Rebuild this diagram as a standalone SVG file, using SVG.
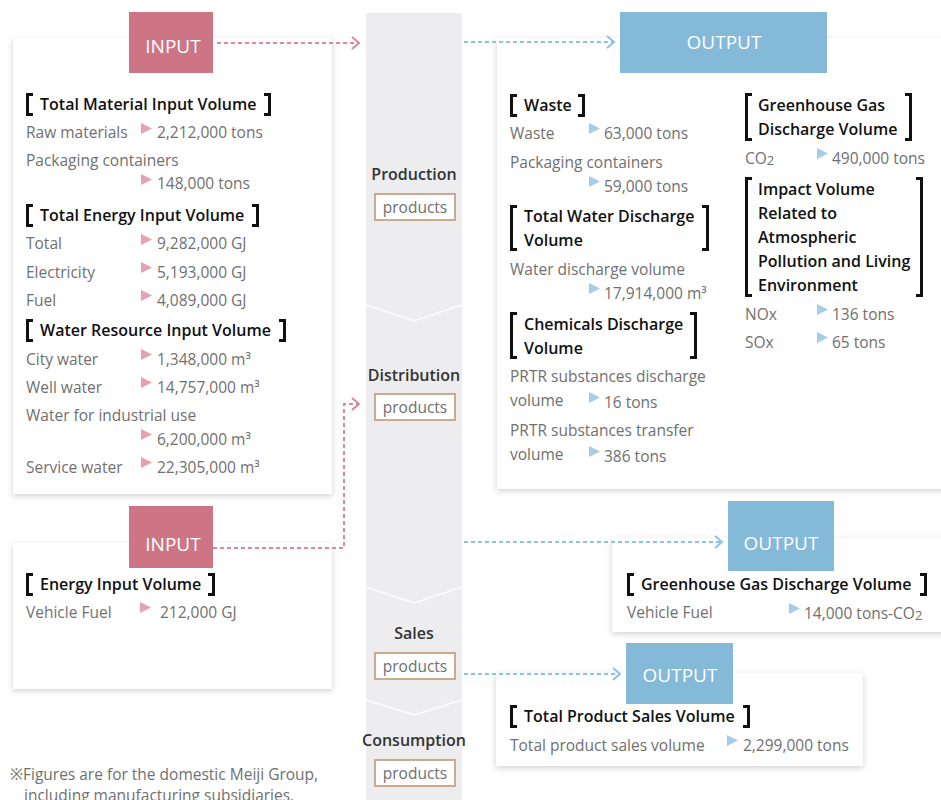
<svg xmlns="http://www.w3.org/2000/svg" width="941" height="800" viewBox="0 0 941 800">
<defs>
<filter id="sh" x="-10%" y="-10%" width="120%" height="125%">
<feDropShadow dx="0" dy="2" stdDeviation="3" flood-color="#000" flood-opacity="0.18"/>
</filter>
<marker id="ap" markerWidth="10" markerHeight="14" refX="8" refY="7" orient="auto" markerUnits="userSpaceOnUse">
<path d="M1,1 L8,7 L1,13" fill="none" stroke="#d9899a" stroke-width="2"/>
</marker>
<marker id="ab" markerWidth="10" markerHeight="14" refX="8" refY="7" orient="auto" markerUnits="userSpaceOnUse">
<path d="M1,1 L8,7 L1,13" fill="none" stroke="#8cc3de" stroke-width="2"/>
</marker>
</defs>
<style>
text{font-family:"Open Sans","Noto Sans","Liberation Sans",sans-serif;}
.panel{fill:#fff;filter:url(#sh);}
.inbox{fill:#cd7585;}
.outbox{fill:#84b9d8;}
.boxt{fill:#fff;font-size:19px;text-anchor:middle;}
.h{font-size:16px;font-weight:600;fill:#111;}
.t{font-size:15.5px;fill:#707070;}
.br{fill:none;stroke:#111;stroke-width:3;}
.tp{fill:#e8a1b0;}
.tb{fill:#a5cde8;}
.stage{font-size:16px;font-weight:600;fill:#333;text-anchor:middle;}
.prod{fill:#fff;stroke:#c9ab92;stroke-width:2;}
.pt{font-size:15.5px;fill:#707070;text-anchor:middle;}
.dp{fill:none;stroke:#d9899a;stroke-width:2;stroke-dasharray:4 3;}
.db{fill:none;stroke:#8cc3de;stroke-width:2;stroke-dasharray:4 3;}
.chev{fill:none;stroke:#fafafc;stroke-width:2;}
</style>

<g id="flow-column">
<rect x="366" y="13" width="96" height="787" fill="#ededf0"/>
<path class="chev" d="M366,305 L414,321 L462,305"/>
<path class="chev" d="M366,587 L414,603 L462,587"/>
<path class="chev" d="M366,700 L414,715 L462,700"/>
</g>

<g id="stage-production">
<text class="stage" x="414" y="180">Production</text>
<rect class="prod" x="375" y="194" width="80" height="26"/>
<text class="pt" x="415" y="213">products</text>
</g>
<g id="stage-distribution">
<text class="stage" x="414" y="381">Distribution</text>
<rect class="prod" x="375" y="394" width="80" height="26"/>
<text class="pt" x="415" y="413">products</text>
</g>
<g id="stage-sales">
<text class="stage" x="414" y="639">Sales</text>
<rect class="prod" x="375" y="653" width="80" height="26"/>
<text class="pt" x="415" y="672">products</text>
</g>
<g id="stage-consumption">
<text class="stage" x="414" y="746">Consumption</text>
<rect class="prod" x="375" y="760" width="80" height="26"/>
<text class="pt" x="415" y="779">products</text>
</g>

<g id="input-production">
<rect class="panel" x="13" y="38" width="319" height="456"/>
<rect class="inbox" x="129" y="12" width="84" height="61"/>
<text class="boxt" x="173" y="53">INPUT</text>
<path class="br" d="M33,94.5 H27.5 V114.5 H33"/>
<text class="h" x="40" y="110">Total Material Input Volume</text>
<path class="br" d="M264,94.5 H269.5 V114.5 H264"/>
<text class="t" x="26" y="138">Raw materials</text>
<polygon class="tp" points="141,123 141,134 152,128.5"/>
<text class="t" x="157" y="138">2,212,000 tons</text>
<text class="t" x="26" y="166">Packaging containers</text>
<polygon class="tp" points="141,174 141,185 152,179.5"/>
<text class="t" x="157" y="189">148,000 tons</text>
<path class="br" d="M33,205.5 H27.5 V225.5 H33"/>
<text class="h" x="40" y="221">Total Energy Input Volume</text>
<path class="br" d="M252,205.5 H257.5 V225.5 H252"/>
<text class="t" x="26" y="249">Total</text>
<polygon class="tp" points="141,234 141,245 152,239.5"/>
<text class="t" x="157" y="249">9,282,000 GJ</text>
<text class="t" x="26" y="278">Electricity</text>
<polygon class="tp" points="141,262 141,273 152,267.5"/>
<text class="t" x="157" y="278">5,193,000 GJ</text>
<text class="t" x="26" y="306">Fuel</text>
<polygon class="tp" points="141,290 141,301 152,295.5"/>
<text class="t" x="157" y="306">4,089,000 GJ</text>
<path class="br" d="M33,320.5 H27.5 V340.5 H33"/>
<text class="h" x="40" y="336">Water Resource Input Volume</text>
<path class="br" d="M279,320.5 H284.5 V340.5 H279"/>
<text class="t" x="26" y="365">City water</text>
<polygon class="tp" points="141,349 141,360 152,354.5"/>
<text class="t" x="157" y="365">1,348,000 m³</text>
<text class="t" x="26" y="393">Well water</text>
<polygon class="tp" points="141,377 141,388 152,382.5"/>
<text class="t" x="157" y="393">14,757,000 m³</text>
<text class="t" x="26" y="421">Water for industrial use</text>
<polygon class="tp" points="141,429 141,440 152,434.5"/>
<text class="t" x="157" y="445">6,200,000 m³</text>
<text class="t" x="26" y="473">Service water</text>
<polygon class="tp" points="141,457 141,468 152,462.5"/>
<text class="t" x="157" y="473">22,305,000 m³</text>
</g>

<g id="input-distribution">
<rect class="panel" x="13" y="543" width="319" height="146"/>
<rect class="inbox" x="129" y="506" width="84" height="62"/>
<text class="boxt" x="173" y="551">INPUT</text>
<path class="br" d="M33,574.5 H27.5 V594.5 H33"/>
<text class="h" x="40" y="590">Energy Input Volume</text>
<path class="br" d="M208,574.5 H213.5 V594.5 H208"/>
<text class="t" x="26" y="618">Vehicle Fuel</text>
<polygon class="tp" points="140,602 140,613 151,607.5"/>
<text class="t" x="160" y="618">212,000 GJ</text>
</g>

<g id="output-production">
<rect class="panel" x="497" y="38" width="450" height="451"/>
<rect class="outbox" x="620" y="12" width="207" height="61"/>
<text class="boxt" x="724" y="49">OUTPUT</text>
<path class="br" d="M517,95.5 H511.5 V115.5 H517"/>
<text class="h" x="524" y="111">Waste</text>
<path class="br" d="M578,95.5 H583.5 V115.5 H578"/>
<text class="t" x="510" y="139">Waste</text>
<polygon class="tb" points="589,123 589,134 600,128.5"/>
<text class="t" x="604" y="139">63,000 tons</text>
<text class="t" x="510" y="168">Packaging containers</text>
<polygon class="tb" points="589,176 589,187 600,181.5"/>
<text class="t" x="604" y="192">59,000 tons</text>
<path class="br" d="M517,206.5 H511.5 V249.5 H517"/>
<text class="h" x="524" y="222">Total Water Discharge</text>
<text class="h" x="524" y="246">Volume</text>
<path class="br" d="M702,206.5 H707.5 V249.5 H702"/>
<text class="t" x="510" y="275">Water discharge volume</text>
<polygon class="tb" points="589,283 589,294 600,288.5"/>
<text class="t" x="604" y="299">17,914,000 m³</text>
<path class="br" d="M517,313.5 H511.5 V357.5 H517"/>
<text class="h" x="524" y="330">Chemicals Discharge</text>
<text class="h" x="524" y="354">Volume</text>
<path class="br" d="M690,313.5 H695.5 V357.5 H690"/>
<text class="t" x="510" y="382">PRTR substances discharge</text>
<text class="t" x="510" y="406">volume</text>
<polygon class="tb" points="589,392 589,403 600,397.5"/>
<text class="t" x="604" y="408">16 tons</text>
<text class="t" x="510" y="436">PRTR substances transfer</text>
<text class="t" x="510" y="460">volume</text>
<polygon class="tb" points="589,446 589,457 600,451.5"/>
<text class="t" x="604" y="462">386 tons</text>

<path class="br" d="M752,94.5 H746.5 V139.5 H752"/>
<text class="h" x="758" y="111">Greenhouse Gas</text>
<text class="h" x="758" y="135">Discharge Volume</text>
<path class="br" d="M905,94.5 H910.5 V139.5 H905"/>
<text class="t" x="745" y="164">CO<tspan font-size="13" dy="1">2</tspan></text>
<polygon class="tb" points="817,148 817,159 828,153.5"/>
<text class="t" x="832" y="164">490,000 tons</text>
<path class="br" d="M752,178.5 H746.5 V295.5 H752"/>
<text class="h" x="758" y="195">Impact Volume</text>
<text class="h" x="758" y="219">Related to</text>
<text class="h" x="758" y="243">Atmospheric</text>
<text class="h" x="758" y="267">Pollution and Living</text>
<text class="h" x="758" y="291">Environment</text>
<path class="br" d="M916,178.5 H921.5 V295.5 H916"/>
<text class="t" x="745" y="320">NOx</text>
<polygon class="tb" points="817,304 817,315 828,309.5"/>
<text class="t" x="832" y="320">136 tons</text>
<text class="t" x="745" y="348">SOx</text>
<polygon class="tb" points="817,332 817,343 828,337.5"/>
<text class="t" x="832" y="348">65 tons</text>
</g>

<g id="output-distribution">
<rect class="panel" x="612" y="538" width="340" height="94"/>
<rect class="outbox" x="728" y="501" width="106" height="70"/>
<text class="boxt" x="781" y="550">OUTPUT</text>
<path class="br" d="M634,574.5 H628.5 V594.5 H634"/>
<text class="h" x="641" y="590">Greenhouse Gas Discharge Volume</text>
<path class="br" d="M920,574.5 H925.5 V594.5 H920"/>
<text class="t" x="627" y="618">Vehicle Fuel</text>
<polygon class="tb" points="789,603 789,614 800,608.5"/>
<text class="t" x="804" y="619">14,000 tons-CO<tspan font-size="13" dy="1">2</tspan></text>
</g>

<g id="output-sales">
<rect class="panel" x="496" y="673" width="367" height="93"/>
<rect class="outbox" x="626" y="643" width="107" height="61"/>
<text class="boxt" x="680" y="682">OUTPUT</text>
<path class="br" d="M517,706.5 H511.5 V726.5 H517"/>
<text class="h" x="524" y="722">Total Product Sales Volume</text>
<path class="br" d="M743,706.5 H748.5 V726.5 H743"/>
<text class="t" x="510" y="751">Total product sales volume</text>
<polygon class="tb" points="727,735 727,746 738,740.5"/>
<text class="t" x="743" y="751">2,299,000 tons</text>
</g>

<g id="connectors">
<path class="dp" d="M217,43 H359" marker-end="url(#ap)"/>
<path class="dp" d="M213,548 H344 V404 H359" marker-end="url(#ap)"/>
<path class="db" d="M464,42 H614" marker-end="url(#ab)"/>
<path class="db" d="M464,542 H722" marker-end="url(#ab)"/>
<path class="db" d="M464,674 H620" marker-end="url(#ab)"/>
</g>

<g id="footnote">
<text class="t" x="10" y="780">※Figures are for the domestic Meiji Group,</text>
<text class="t" x="24" y="801">including manufacturing subsidiaries.</text>
</g>
</svg>
